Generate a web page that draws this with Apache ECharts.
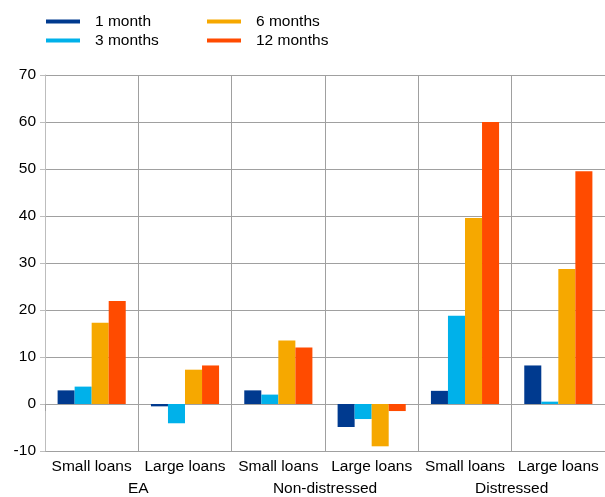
<!DOCTYPE html>
<html><head><meta charset="utf-8">
<script src="https://cdn.jsdelivr.net/npm/echarts@6/dist/echarts.min.js"></script>
<style>html,body{margin:0;padding:0;background:#fff}#c{width:605px;height:497px}</style>
</head><body><div id="c"></div>
<script>
var categories = ['Small loans','Large loans','Small loans','Large loans','Small loans','Large loans'];
var groups = ['EA','Non-distressed','Distressed'];
var yTicks = {min:-10, max:70, interval:10};
var m1  = [2.9, -0.5, 2.9, -4.9, 2.8, 8.2];
var m3  = [3.7, -4.1, 2.0, -3.2, 18.8, 0.5];
var m6  = [17.3, 7.3, 13.5, -9.0, 39.6, 28.7];
var m12 = [21.9, 8.2, 12.0, -1.5, 60.0, 49.5];
var names = ['1 month','3 months','6 months','12 months'];
var colors = ['#003a8f','#00b1ea','#f6a800','#ff4b00'];

var font = 'Liberation Sans, Arial, sans-serif';
var chart = echarts.init(document.getElementById('c'));
var vals = [m1,m3,m6,m12];
var legendBase = {
  orient:'vertical', icon:'rect', itemWidth:34, itemHeight:4, itemGap:3, padding:0,
  textStyle:{fontFamily:font, fontSize:15.5, color:'#000', lineHeight:15.5, padding:[0,0,0,10]}
};
chart.setOption({
  animation:false,
  color: colors,
  textStyle:{fontFamily:font},
  legend:[
    Object.assign({left:46, top:13.5, data:[names[0],names[1]]}, legendBase),
    Object.assign({left:207, top:13.5, data:[names[2],names[3]]}, legendBase)
  ],
  grid:{left:45, right:0, top:75, bottom:45.5, containLabel:false},
  xAxis:[{
    type:'category', data:categories, position:'bottom',
    axisLine:{show:false},
    axisTick:{show:true, interval:0, length:7, lineStyle:{color:'#a0a0a0'}},
    splitLine:{show:true, interval:0, lineStyle:{color:'#a0a0a0', width:1}},
    axisLabel:{interval:0, fontSize:15.5, color:'#000', margin:8, fontFamily:font}
  },{
    type:'category', data:groups, position:'bottom', offset:22,
    axisLine:{show:false}, axisTick:{show:false}, splitLine:{show:false},
    axisLabel:{interval:0, fontSize:15.5, color:'#000', margin:8, fontFamily:font}
  }],
  yAxis:{
    type:'value', min:yTicks.min, max:yTicks.max, interval:yTicks.interval,
    axisLine:{show:true, lineStyle:{color:'#bdbdbd'}},
    axisTick:{show:true, length:5, lineStyle:{color:'#bdbdbd'}},
    splitLine:{show:true, lineStyle:{color:'#a0a0a0', width:1}},
    axisLabel:{fontSize:15.5, color:'#000', margin:9, fontFamily:font}
  },
  series: names.map(function(n,i){
    return {name:n, type:'bar', data:vals[i], xAxisIndex:0, barGap:'0%', barCategoryGap:'27%',
      itemStyle:{color:colors[i]}};
  })
});
</script></body></html>
